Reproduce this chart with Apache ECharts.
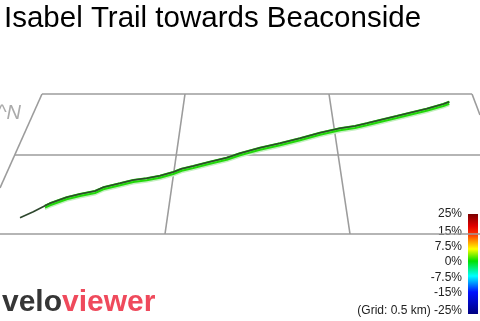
<!DOCTYPE html>
<html>
<head>
<meta charset="utf-8">
<script src="https://cdn.jsdelivr.net/npm/echarts@6/dist/echarts.min.js"></script>
<style>html,body{margin:0;padding:0;background:#fff}#c{width:480px;height:321px}</style>
</head>
<body>
<div id="c"></div>
<script>
// Profile (projected screen position along the 3D plane)
const profileX = [20,33.3,45,50,66.7,80,95,103.3,120,133.3,146.7,160,173.3,181.7,193.3,210,226.7,240,260,280,300,320,340,355,366.7,380,396.7,410,426.7,443.3,449.3];
const profileY = [217.7,211.7,205.7,203.3,197.3,194,191,187.3,183.3,180,178.3,175.7,172,168.7,166,161.7,157.7,153.3,147.7,143.3,138.3,132.7,128.3,126,123.3,120,116,112.7,108.7,104,101.7];
// Perspective grid plane (0.5 km)
const planeLines = [
  [[42,94],[472,94]],
  [[472,94],[480,115]],
  [[15,155],[480,155]],
  [[0,234],[480,234]],
  [[42,94],[0,188]],
  [[185,94],[165,234]],
  [[329,94],[350,234]]
];
// Gradient legend
const gradeLabels = ['25%','15%','7.5%','0%','-7.5%','-15%','(Grid: 0.5 km) -25%'];
const gradeLabelY = [214,232,247,262,278,293,311];
const title = 'Isabel Trail towards Beaconside';

const chart = echarts.init(document.getElementById('c'), null, {renderer:'canvas'});
const pts = profileX.map((x,i)=>[x,profileY[i]]);
const ribbon = pts.slice(2);

const series = planeLines.map(l=>({
  type:'line', data:l, showSymbol:false, silent:true,
  lineStyle:{color:'#9c9c9c', width:1.6}
}));
series.push({type:'line', data:ribbon, showSymbol:false, silent:true,
  lineStyle:{color:'#c4f0c0', width:2, shadowColor:'#c4f0c0', shadowOffsetY:3.5, shadowBlur:0}});
series.push({type:'line', data:ribbon, showSymbol:false, silent:true,
  lineStyle:{color:'#22d80a', width:2, shadowColor:'#22d80a', shadowOffsetY:2, shadowBlur:0}});
series.push({type:'line', data:pts, showSymbol:false, silent:true,
  lineStyle:{color:'#2e472e', width:1.6}});

const graphic = [
  {type:'text', style:{text:title, x:4, y:19, font:'29.5px "Liberation Sans", Arial, sans-serif', fill:'#000', textVerticalAlign:'middle'}},
  {type:'text', style:{text:'^N', x:-3, y:113, font:'italic 20px "Liberation Sans", Arial, sans-serif', fill:'#aaa', textVerticalAlign:'middle'}},
  {type:'rect', shape:{x:468, y:214, width:10, height:100}, style:{fill:new echarts.graphic.LinearGradient(0,0,0,1,[
    {offset:0,color:'#7a0000'},{offset:0.12,color:'#e00000'},{offset:0.2,color:'#ff3000'},
    {offset:0.28,color:'#ffa000'},{offset:0.35,color:'#ffff00'},{offset:0.47,color:'#00e000'},
    {offset:0.62,color:'#00ffff'},{offset:0.78,color:'#0010ff'},{offset:1,color:'#000080'}])}},
  {type:'text', style:{text:'{a|velo}{b|viewer}', x:2, y:302.5, textVerticalAlign:'middle',
    rich:{a:{fontSize:30,fontWeight:'bold',fontFamily:'"Liberation Sans", Arial',fill:'#363636',color:'#363636'},
          b:{fontSize:30,fontWeight:'bold',fontFamily:'"Liberation Sans", Arial',fill:'#ef4a5c',color:'#ef4a5c'}}}}
];
gradeLabels.forEach((t,i)=>graphic.push({type:'text', style:{text:t, x:462, y:gradeLabelY[i], textAlign:'right', textVerticalAlign:'middle', font:'12px "Liberation Sans", Arial, sans-serif', fill:'#222'}}));

chart.setOption({
  animation:false,
  grid:{left:0,right:0,top:0,bottom:0},
  xAxis:{type:'value', min:0, max:480, show:false},
  yAxis:{type:'value', min:0, max:321, inverse:true, show:false},
  series, graphic
});
</script>
</body>
</html>
